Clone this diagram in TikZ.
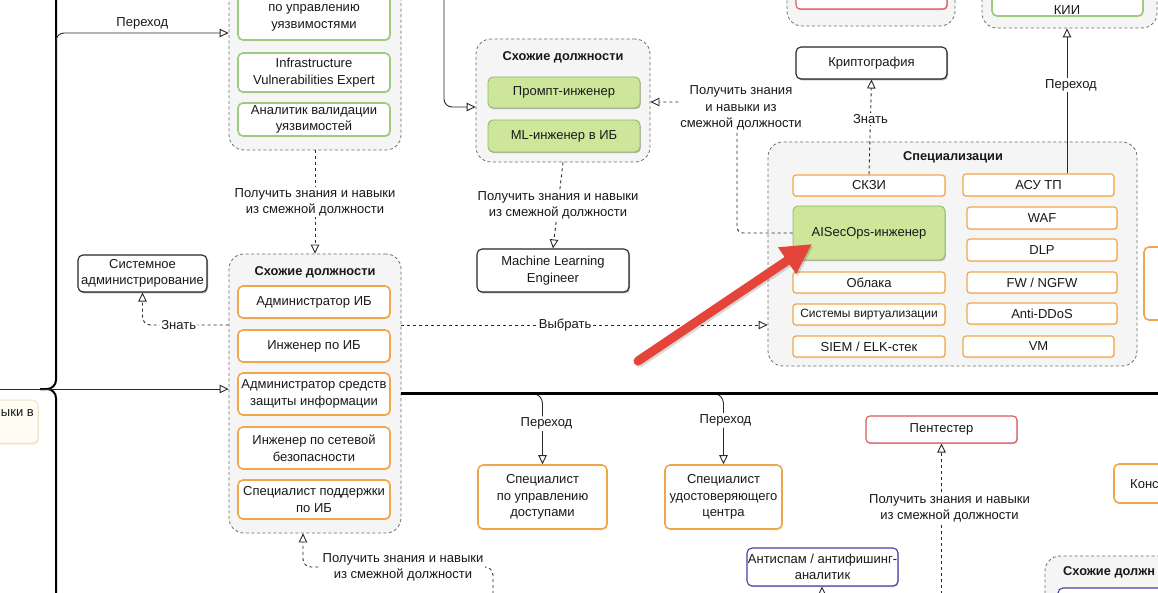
\documentclass[tikz,border=0pt]{standalone}
\usepackage{fontspec}
\setmainfont{Liberation Sans}
\usetikzlibrary{arrows.meta,shadows}
\definecolor{grpfill}{HTML}{F5F5F5}
\definecolor{grpline}{HTML}{6E6E6E}
\definecolor{orgline}{HTML}{F0A64A}
\definecolor{grnline}{HTML}{9CCB7F}
\definecolor{grnfill}{HTML}{CDE69A}
\definecolor{grndark}{HTML}{8DBA6C}
\definecolor{redline}{HTML}{D45A5A}
\definecolor{blueline}{HTML}{4242A6}
\definecolor{arrowred}{HTML}{E5443B}
\definecolor{beige}{HTML}{FFFCF4}
\definecolor{beigeline}{HTML}{EFE2C8}
\definecolor{edgecol}{HTML}{2A2A2A}
\newcommand\mkbox[7]{\node[#1, minimum width={(#5-(#3))*1pt}, minimum height={(#6-(#4))*1pt}] (#2) at ({((#3)+(#5))/2},{((#4)+(#6))/2}) {#7};}
\tikzset{
  every node/.style={font=\fontsize{13}{16.5}\selectfont, align=center, inner sep=0pt, text=black!90},
  grp/.style={draw=grpline, fill=grpfill, dash pattern=on 3pt off 2.5pt, rounded corners=15pt, line width=0.8pt},
  ttl/.style={font=\bfseries\fontsize{12.8}{15}\selectfont},
  obox/.style={draw=orgline, fill=white, line width=1.6pt, rounded corners=5pt, drop shadow={shadow xshift=0.8pt, shadow yshift=-1.2pt, opacity=0.3, fill=orgline}},
  sbox/.style={draw=orgline, fill=white, line width=1.2pt, rounded corners=3pt, drop shadow={shadow xshift=0.8pt, shadow yshift=-1pt, opacity=0.3, fill=orgline}},
  gbox/.style={draw=grnline, fill=white, line width=1.6pt, rounded corners=5pt, drop shadow={shadow xshift=0.8pt, shadow yshift=-1.2pt, opacity=0.3, fill=grnline}},
  gfbox/.style={draw=grndark, fill=grnfill, line width=0.9pt, rounded corners=5pt, drop shadow={shadow xshift=0.8pt, shadow yshift=-1.2pt, opacity=0.25, fill=black}},
  kbox/.style={draw=black!85, fill=white, line width=1.1pt, rounded corners=5pt, drop shadow={shadow xshift=1pt, shadow yshift=-1.5pt, opacity=0.3, fill=black}},
  rbox/.style={draw=redline, fill=white, line width=1.1pt, rounded corners=4pt, drop shadow={shadow xshift=0.8pt, shadow yshift=-1.2pt, opacity=0.2, fill=black}},
  bbox/.style={draw=blueline, fill=white, line width=1.1pt, rounded corners=5pt, drop shadow={shadow xshift=0.8pt, shadow yshift=-1.2pt, opacity=0.2, fill=black}},
  lbox/.style={draw=beigeline, fill=beige, line width=1pt, rounded corners=5pt, drop shadow={shadow xshift=1pt, shadow yshift=-1.5pt, opacity=0.25, fill=orgline}},
  opentip/.tip={Triangle[open, fill=white, length=9pt, width=8.5pt]},
  edge/.style={draw=edgecol, line width=0.9pt, -opentip},
  dedge/.style={edge, dash pattern=on 3pt off 3pt},
  trunk/.style={draw=black, line width=2pt},
  lbl/.style={fill=white, inner sep=1.5pt, font=\fontsize{13}{16.2}\selectfont},
}
\begin{document}
\begin{tikzpicture}[x=1pt,y=-1pt]
\useasboundingbox (0,0) rectangle (1158,593);
\clip (0,0) rectangle (1158,593);
\fill[white] (0,0) rectangle (1158,593);

% helper coordinates
\coordinate (cL) at (-5,389);
\coordinate (cJ) at (40,389);
\coordinate (cTop) at (56,-5);
\coordinate (cBot) at (56,600);
\coordinate (cV) at (56,80);
\coordinate (h33) at (0,33);
\coordinate (h325) at (0,325);
\coordinate (c5) at (444,-5);
\coordinate (h107) at (0,107);
\coordinate (c737) at (737,102);
\coordinate (c1067) at (1067,0);
\coordinate (cR) at (1165,393.5);
\coordinate (cP) at (941.5,600);
\coordinate (cA) at (822,600);
\coordinate (cB) at (493,600);
\coordinate (c303) at (303,567);
\coordinate (ra) at (638,361);
\coordinate (rb) at (812,244);

% groups
\mkbox{grp}{g1}{229}{-40}{401}{150}{}
\mkbox{grp}{g2}{229}{254}{401}{533}{}
\mkbox{grp}{g3}{476}{39}{650}{162}{}
\mkbox{grp}{gs}{768}{142}{1137}{366}{}
\mkbox{grp}{gr}{787}{-40}{955}{26}{}
\mkbox{grp}{gk}{982}{-40}{1157}{28}{}
\mkbox{grp}{gb}{1045}{556}{1230}{660}{}

% group titles
\node[ttl] (t2) at (315,272) {Схожие должности};
\node[ttl] (t3) at (563,57) {Схожие должности};
\node[ttl] (ts) at (953,157) {Специализации};
\node[ttl, anchor=west] (tb) at (1063,572) {Схожие должн};

% group 1
\mkbox{gbox}{b11}{238}{-30}{390}{40}{}
\node (b11t) at (314,18) {по управлению\\уязвимостями};
\mkbox{gbox}{b12}{238}{53}{390}{92}{Infrastructure\\Vulnerabilities Expert}
\mkbox{gbox}{b13}{238}{103}{390}{136}{Аналитик валидации\\уязвимостей}

% group 2
\mkbox{obox}{b21}{238}{286}{390}{318}{Администратор ИБ}
\mkbox{obox}{b22}{238}{330}{390}{362}{Инженер по ИБ}
\mkbox{obox}{b23}{238}{373}{390}{415}{Администратор средств\\защиты информации}
\mkbox{obox}{b24}{238}{427}{390}{469}{Инженер по сетевой\\безопасности}
\mkbox{obox}{b25}{238}{480}{390}{519}{Специалист поддержки\\по ИБ}

% group 3
\mkbox{gfbox}{b31}{488}{77}{640}{108}{Промпт-инженер}
\mkbox{gfbox}{b32}{488}{120}{640}{152}{ML-инженер в ИБ}

% specialisations
\mkbox{sbox}{s1}{793}{175}{945}{196}{СКЗИ}
\mkbox{gfbox}{s2}{793}{206}{945}{260}{AISecOps-инженер}
\mkbox{sbox}{s3}{793}{272}{945}{293}{Облака}
\mkbox{sbox}{s4}{793}{304}{945}{325}{\fontsize{12}{14}\selectfont Системы виртуализации}
\mkbox{sbox}{s5}{793}{336}{945}{357}{SIEM / ELK-стек}
\mkbox{sbox}{r1}{963}{174}{1114}{196}{АСУ ТП}
\mkbox{sbox}{r2}{967}{207}{1117}{229}{WAF}
\mkbox{sbox}{r3}{967}{239}{1117}{261}{DLP}
\mkbox{sbox}{r4}{967}{272}{1117}{293}{FW / NGFW}
\mkbox{sbox}{r5}{967}{303}{1117}{324}{Anti-DDoS}
\mkbox{sbox}{r6}{963}{336}{1114}{357}{VM}

% other nodes
\mkbox{kbox}{sysadm}{78}{255}{207}{292}{Системное\\администрирование}
\mkbox{kbox}{mle}{477}{249}{629}{292}{Machine Learning\\Engineer}
\mkbox{kbox}{crypt}{796}{47}{947}{79}{Криптография}
\mkbox{rbox}{redtop}{796}{-30}{947}{9}{}
\mkbox{gbox}{kii}{992}{-30}{1143}{16}{}
\node (kiit) at (1067,10) {КИИ};
\mkbox{rbox}{pent}{866}{416}{1017}{443}{Пентестер}
\mkbox{obox}{sud}{478}{465}{607}{529}{Специалист\\по управлению\\доступами}
\mkbox{obox}{suc}{665}{465}{782}{529}{Специалист\\удостоверяющего\\центра}
\mkbox{bbox}{anti}{747}{548}{898}{586}{Антиспам / антифишинг-\\аналитик}
\mkbox{obox}{kons}{1114}{464}{1220}{503}{}
\node[anchor=west] (konst) at (1130,484) {Конс};
\mkbox{obox}{rbx}{1144}{247}{1220}{320}{}
\mkbox{lbox}{lft}{-40}{400}{38}{443}{}
\node[anchor=east] (lftt) at (34,413) {ыки в};
\mkbox{bbox}{bb1}{1058}{588}{1220}{630}{}

% trunk lines on the left
\draw[trunk, rounded corners=9pt] (cJ) -| (cTop);
\draw[trunk, rounded corners=9pt] (cJ) -| (cBot);
\draw[edge] (cL) -- (g2.west |- cL);
\draw[edge, rounded corners=8pt] (cV) |- (g1.west |- h33)
  node[pos=0.75, above=3pt] (lp1) {Переход};

% group1 -> group2
\draw[dedge] (g1.south) -- node[lbl] (l2) {Получить знания и навыки\\из смежной должности} (g2.north);
% group2 -> sysadm
\draw[dedge, rounded corners=8pt] (g2.west |- h325) -| (sysadm.south)
  node[lbl, pos=0.29] (l3) {Знать};
% group2 -> specialisations
\draw[dedge] (g2.east |- h325) -- node[lbl, pos=0.447] (l4) {Выбрать} (gs.west |- h325);
% into group 3 from top
\draw[edge, rounded corners=8pt] (c5) |- (g3.west |- h107);
% group3 -> MLE
\draw[dedge] (g3.south) -- node[lbl] (l6) {Получить знания и навыки\\из смежной должности} (mle.north);
% AISecOps -> group3
\draw[dedge, rounded corners=6pt] (s2.west) -| (c737) -- (g3.east |- c737);
\node[lbl] (l7) at (741,108) {Получить знания\\и навыки из\\смежной должности};
% SKZI -> crypto
\draw[dedge] (s1.north) -- node[lbl, pos=0.58] (l8) {Знать} (crypt.south);
% ASU TP -> KII
\draw[edge] (r1.north -| c1067) -- node[lbl, pos=0.61, xshift=4pt] (l9) {Переход} (gk.south -| c1067);
% bottom trunk
\draw[edge, rounded corners=10pt] (g2.east) -| (sud.north)
  node[lbl, pos=0.713, xshift=4pt] (l10) {Переход};
\draw[edge, rounded corners=10pt] (g2.east) -| (suc.north)
  node[lbl, pos=0.69, xshift=2pt] (l11) {Переход};
\draw[trunk, line width=2.4pt] (g2.east) -- (cR);
% pentester
\draw[dedge] (cP) -- node[lbl, pos=0.586, xshift=8pt] (l12) {Получить знания и навыки\\из смежной должности} (pent.south);
% antispam
\draw[edge] (cA) -- (anti.south -| cA);
% from below into group 2
\draw[dedge, rounded corners=8pt] (cB) |- (c303) -- (g2.south -| c303);
\node[lbl] (l13) at (403,567) {Получить знания и навыки\\из смежной должности};

% red highlight arrow
\draw[black, opacity=0.15, line width=9pt, line cap=round, -{Triangle[length=30pt,width=30pt]}, transform canvas={xshift=1.5pt,yshift=-2pt}] (ra) -- (rb);
\draw[arrowred, line width=9pt, line cap=round, -{Triangle[length=30pt,width=30pt]}] (ra) -- (rb);
\end{tikzpicture}
\end{document}
